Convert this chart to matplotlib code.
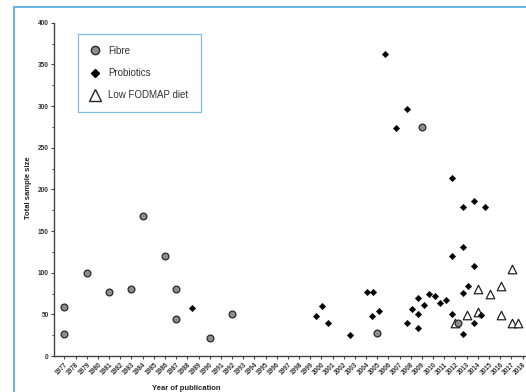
import matplotlib
matplotlib.use("Agg")
import matplotlib.pyplot as plt
from matplotlib.patches import Rectangle
from matplotlib.lines import Line2D

plt.rcParams['font.family'] = ['Liberation Sans', 'DejaVu Sans']

# ---- data ----
fibre_year = [1977, 1977, 1979, 1981, 1983, 1984, 1986, 1987, 1987, 1990, 1992, 2005, 2009, 2012.2]
fibre_n = [59, 26, 100, 77, 80, 168, 120, 80, 44, 22, 51, 28, 275, 40]

probio_year = [1988.45, 1999.5, 2000.05, 2000.6, 2002.6, 2004.1, 2004.65, 2004.55, 2005.15, 2005.65,
               2006.65, 2007.65, 2007.65, 2008.15, 2008.65, 2008.65, 2008.65, 2009.15, 2009.65,
               2010.15, 2010.65, 2011.15, 2011.65, 2011.65, 2011.65, 2012.65, 2012.65, 2012.65,
               2012.65, 2013.15, 2013.65, 2013.65, 2013.65, 2014.25, 2014.65]
probio_n = [58, 48, 60, 40, 25, 77, 77, 48, 54, 362,
            274, 297, 40, 56, 70, 50, 34, 61, 74,
            72, 64, 67, 214, 120, 50, 179, 131, 76,
            26, 84, 186, 108, 40, 49, 179]

fodmap_year = [2012.0, 2013.0, 2014.05, 2014.05, 2015.05, 2016.05, 2016.05, 2017.05, 2017.05, 2017.6]
fodmap_n = [40, 49, 81, 53, 74, 84, 49, 104, 40, 40]

years = list(range(1977, 2019))

# ---- figure ----
fig = plt.figure(figsize=(5.26, 3.92), dpi=100)
ax = fig.add_axes([0.1032, 0.0918, 0.8987, 0.8502])

frame_col = '#5aaee0'
ax.scatter(fodmap_year, fodmap_n, marker='^', s=38, facecolor='white',
           edgecolor='#222222', linewidth=0.9, zorder=2)
ax.scatter(fibre_year, fibre_n, marker='o', s=24, facecolor='#8c8c8c',
           edgecolor='#2a2a2a', linewidth=0.9, zorder=3)
ax.scatter(probio_year, probio_n, marker='D', s=11, facecolor='black',
           edgecolor='black', linewidth=0.3, zorder=4)

ax.set_xlim(1976.09, 2018.4)
ax.set_ylim(0, 400)
ax.set_yticks(range(0, 401, 50))
ax.set_yticks(range(25, 400, 50), minor=True)
ax.set_xticks(years)
ax.set_xticklabels([str(y) for y in years], rotation=45, ha='right',
                   rotation_mode='anchor', fontsize=4.7, fontweight='bold', color='#333333')
for lab in ax.get_yticklabels():
    lab.set_fontsize(4.7)
    lab.set_fontweight('bold')
    lab.set_color('#333333')

for s in ['top', 'right']:
    ax.spines[s].set_visible(False)
for s in ['left', 'bottom']:
    ax.spines[s].set_color('#444444')
    ax.spines[s].set_linewidth(1.0)
ax.tick_params(axis='both', which='major', length=2.5, width=0.8, color='#444444', pad=1.5)
ax.tick_params(axis='y', which='minor', length=1.8, width=0.7, color='#444444')

fig.text(0.055, 0.52, 'Total sample size', rotation=90, ha='center', va='center',
         fontsize=5.5, fontweight='bold', color='#222222')
fig.text(0.3536, 0.01, 'Year of publication', ha='center', va='center',
         fontsize=5.5, fontweight='bold', color='#222222')

handles = [
    Line2D([], [], marker='o', linestyle='none', markersize=6, markerfacecolor='#8c8c8c',
           markeredgecolor='#2a2a2a', markeredgewidth=1.0),
    Line2D([], [], marker='D', linestyle='none', markersize=3.8, markerfacecolor='black',
           markeredgecolor='black'),
    Line2D([], [], marker='^', linestyle='none', markersize=8, markerfacecolor='white',
           markeredgecolor='#222222', markeredgewidth=1.0),
]
leg = ax.legend(handles, ['Fibre', 'Probiotics', 'Low FODMAP diet'],
                loc='upper left', bbox_to_anchor=(77.7 / 526, 1 - 33.7 / 392),
                bbox_transform=fig.transFigure, fontsize=7, frameon=True, fancybox=False,
                borderpad=1.25, labelspacing=1.25, handletextpad=0.9, borderaxespad=0,
                handlelength=1.0)
leg.get_frame().set_edgecolor(frame_col)
leg.get_frame().set_linewidth(0.9)
for t in leg.get_texts():
    t.set_color('#333333')

# outer blue frame of the panel
fig.patches.append(Rectangle((14 / 526, -0.05), 1.2, 1 - 7 / 392 + 0.05,
                             transform=fig.transFigure, fill=False,
                             edgecolor=frame_col, linewidth=1.3))

fig.savefig('out.png', dpi=100)
